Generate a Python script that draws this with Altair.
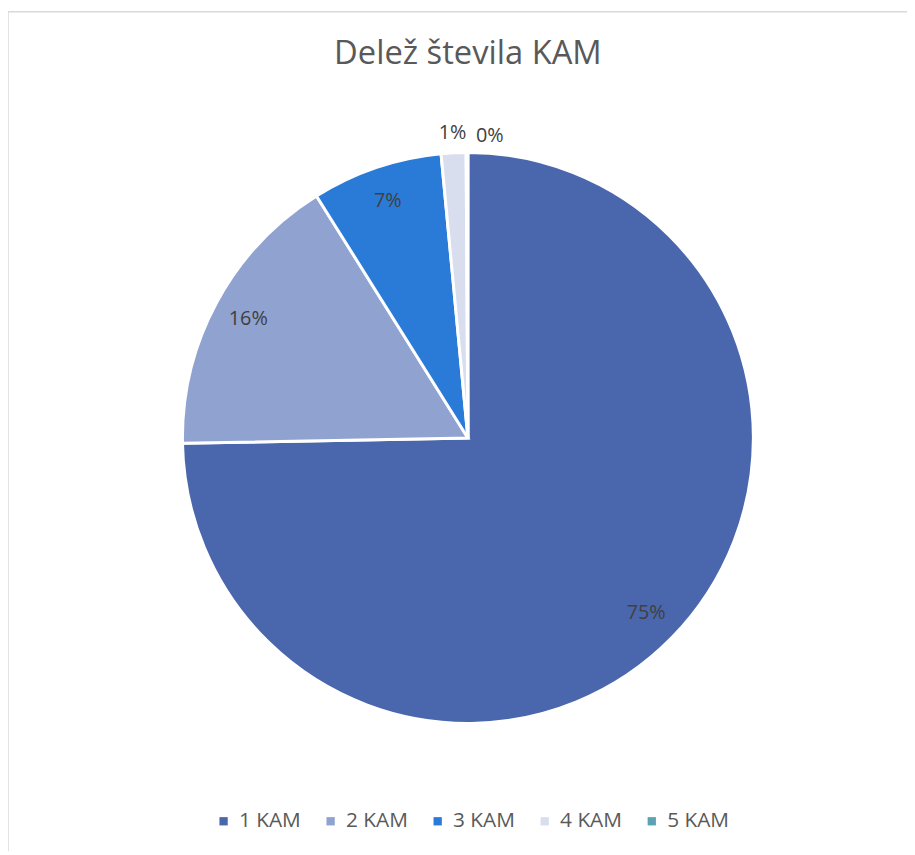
import altair as alt
import pandas as pd

categories = ["1 KAM", "2 KAM", "3 KAM", "4 KAM", "5 KAM"]
values = [74.7, 16.4, 7.4, 1.4, 0.1]
colors = ["#4A67AD", "#8FA2D0", "#2A7BD8", "#D9DEEF", "#5BA3B0"]

df = pd.DataFrame({"cat": categories, "value": values, "idx": list(range(len(categories)))})
total = sum(values)

W, H = 907, 847
CX, CY = 464, 430

base = alt.Chart(df).transform_calculate(
    share=f"datum.value / {total}",
    lab="format(datum.value / " + str(total) + ", '.0%')",
)

theta = alt.Theta("value:Q", stack=True)
order = alt.Order("idx:Q", sort="ascending")

arc = base.mark_arc(stroke="white", strokeWidth=3, outerRadius=288).encode(
    theta=theta,
    order=order,
    x=alt.value(CX),
    y=alt.value(CY),
    color=alt.Color(
        "cat:N",
        scale=alt.Scale(domain=categories, range=colors),
        legend=alt.Legend(
            title=None,
            orient="none",
            direction="horizontal",
            legendX=207,
            legendY=806,
            symbolType="square",
            symbolSize=70,
            symbolStrokeWidth=0,
            labelFont="Open Sans",
            labelFontSize=21,
            labelColor="#595959",
            labelOffset=5,
            columnPadding=19,
            columns=5,
        ),
    ),
)

def label_layer(cond, radius, dx=0, dy=0):
    return base.transform_calculate(
        t=f"{cond} ? datum.lab : ''"
    ).mark_text(
        font="Open Sans", fontSize=20, color="#404040", radius=radius, dx=dx, dy=dy
    ).encode(
        theta=theta,
        order=order,
        x=alt.value(CX),
        y=alt.value(CY),
        text="t:N",
    )

lab_in = label_layer("datum.share >= 0.05", 252)
lab_1 = label_layer("datum.cat == '4 KAM'", 308)
lab_0 = label_layer("datum.cat == '5 KAM'", 305, dx=23)

title = alt.Chart(df).mark_text(
    font="Open Sans", fontSize=33, color="#595959"
).encode(x=alt.value(464), y=alt.value(43), text=alt.value("Delež števila KAM")).transform_filter("datum.idx == 0")

border_top = alt.Chart(df).mark_rule(color="#D9D9D9", strokeWidth=1.5).encode(
    x=alt.value(0), x2=alt.value(W), y=alt.value(0)
).transform_filter("datum.idx == 0")
border_left = alt.Chart(df).mark_rule(color="#D9D9D9", strokeWidth=1.5).encode(
    x=alt.value(0), y=alt.value(0), y2=alt.value(H)
).transform_filter("datum.idx == 0")

chart = alt.layer(border_top, border_left, arc, lab_in, lab_1, lab_0, title).properties(
    width=W, height=H, padding=0, autosize=alt.AutoSizeParams(type="none")
).configure_view(stroke=None)

chart.save("out.html", embed_options={"renderer": "svg", "actions": False})
